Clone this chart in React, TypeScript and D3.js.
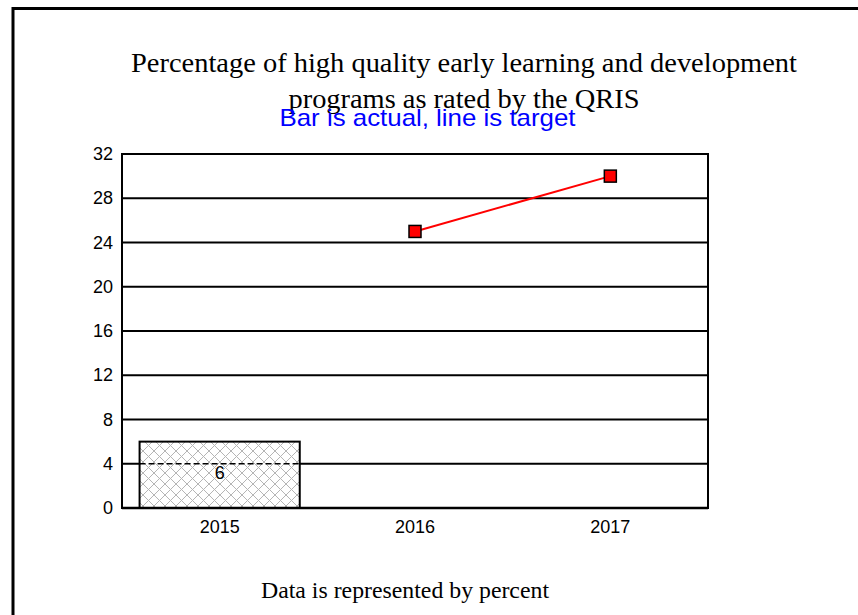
import React from "react";
import * as d3 from "d3";

const categories = ["2015", "2016", "2017"];
const actualValues: (number | null)[] = [6, null, null];
const targetValues: (number | null)[] = [null, 25, 30];
const yTicks = [0, 4, 8, 12, 16, 20, 24, 28, 32];
const titleLines = [
  "Percentage of high quality early learning and development",
  "programs as rated by the QRIS",
];
const subtitle = "Bar is actual, line is target";
const footer = "Data is represented by percent";

export default function App() {
  const W = 858, H = 615;
  const left = 122, right = 708, top = 154, bottom = 508;
  const x = d3.scaleBand<string>().domain(categories).range([left, right]).paddingInner(0).paddingOuter(0);
  const y = d3.scaleLinear().domain([0, 32]).range([bottom, top]);
  const bw = x.bandwidth();
  const barW = bw * 0.82;
  const linePts = categories
    .map((c, i) => ({ c, v: targetValues[i] }))
    .filter((d) => d.v != null) as { c: string; v: number }[];
  const line = d3
    .line<{ c: string; v: number }>()
    .x((d) => (x(d.c) as number) + bw / 2)
    .y((d) => y(d.v));
  const sans = "'Liberation Sans', Arial, sans-serif";
  const serif = "'Liberation Serif', 'Times New Roman', serif";
  return (
    <svg width={W} height={H} style={{ position: "absolute", left: 0, top: 0, background: "#fff" }}>
      <defs>
        <pattern id="hatch" width="11" height="11" patternUnits="userSpaceOnUse">
          <rect width="11" height="11" fill="#fff" />
          <path d="M0,0 L11,11 M11,0 L0,11" stroke="#b5b5b5" strokeWidth="1" />
        </pattern>
      </defs>
      <rect x={13} y={8.5} width={W + 10} height={H + 10} fill="none" stroke="#000" strokeWidth={3} />
      {titleLines.map((t, i) => (
        <text
          key={i}
          x={464}
          y={72 + i * 36}
          textAnchor="middle"
          fontFamily={serif}
          fontSize={28}
          textLength={i === 0 ? 666 : 351}
          lengthAdjust="spacingAndGlyphs"
        >
          {t}
        </text>
      ))}
      <text x={427.5} y={126} textAnchor="middle" fontFamily={sans} fontSize={24} fill="#0000ff" textLength={296} lengthAdjust="spacingAndGlyphs">
        {subtitle}
      </text>
      {yTicks.map((t) => (
        <line key={t} x1={left} x2={right} y1={y(t)} y2={y(t)} stroke="#000" strokeWidth={2} />
      ))}
      {categories.map((c, i) => {
        const v = actualValues[i];
        if (v == null) return null;
        const bx = (x(c) as number) + (bw - barW) / 2;
        return (
          <g key={c}>
            <rect x={bx} y={y(v)} width={barW} height={y(0) - y(v)} fill="url(#hatch)" stroke="#000" strokeWidth={2} />
            {yTicks
              .filter((t) => t > 0 && t < v)
              .map((t) => (
                <line key={t} x1={bx} x2={bx + barW} y1={y(t)} y2={y(t)} stroke="#000" strokeWidth={1.5} strokeDasharray="6,3" />
              ))}
            <text x={bx + barW / 2} y={y(v) + 37} textAnchor="middle" fontFamily={sans} fontSize={18}>
              {v}
            </text>
          </g>
        );
      })}
      <rect x={left} y={top} width={right - left} height={bottom - top} fill="none" stroke="#000" strokeWidth={2} />
      <line x1={left} x2={right} y1={bottom} y2={bottom} stroke="#000" strokeWidth={2.5} />
      {yTicks.map((t) => (
        <text key={t} x={113} y={y(t) + 6} textAnchor="end" fontFamily={sans} fontSize={18}>
          {t}
        </text>
      ))}
      {categories.map((c) => (
        <text key={c} x={(x(c) as number) + bw / 2} y={533} textAnchor="middle" fontFamily={sans} fontSize={18}>
          {c}
        </text>
      ))}
      <path d={line(linePts) || ""} fill="none" stroke="#ff0000" strokeWidth={2} />
      {linePts.map((d) => (
        <rect
          key={d.c}
          x={(x(d.c) as number) + bw / 2 - 6}
          y={y(d.v) - 6}
          width={12}
          height={12}
          fill="#ff0000"
          stroke="#000"
          strokeWidth={1.5}
        />
      ))}
      <text x={405} y={598} textAnchor="middle" fontFamily={serif} fontSize={23} textLength={288} lengthAdjust="spacingAndGlyphs">
        {footer}
      </text>
    </svg>
  );
}
